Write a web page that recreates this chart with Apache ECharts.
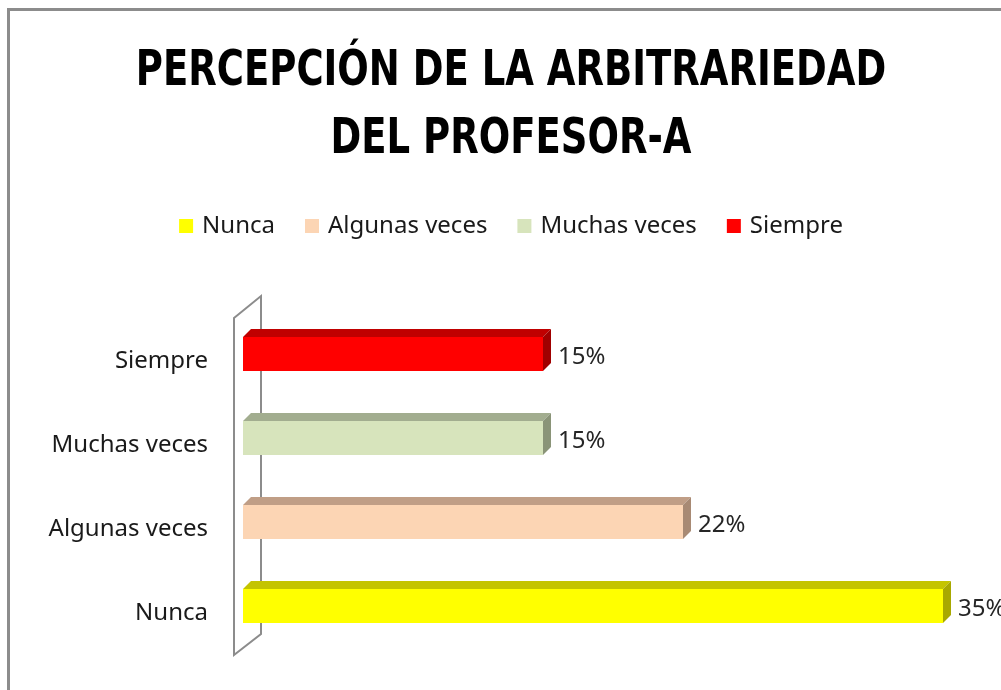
<!DOCTYPE html>
<html>
<head>
<meta charset="utf-8">
<script src="https://cdn.jsdelivr.net/npm/echarts@6/dist/echarts.min.js"></script>
<style>
    html, body { margin: 0; padding: 0; overflow: hidden; background: #fff; }
    #chart { width: 1022px; height: 700px; }
</style>
</head>
<body>
<div id="chart"></div>
<script>
// Data
const categories = ['Nunca', 'Algunas veces', 'Muchas veces', 'Siempre'];
const values = [35, 22, 15, 15];
const titleText = 'PERCEPCIÓN DE LA ARBITRARIEDAD\nDEL PROFESOR-A';

// Colors: front face, top face, side face
const frontColors = ['#FFFF00', '#FCD5B4', '#D7E4BC', '#FF0000'];
const topColors = ['#C4C400', '#C09E86', '#A2AD8F', '#C00000'];
const sideColors = ['#A8A800', '#A88A74', '#8A9478', '#A00000'];

const FONT = '"Noto Sans", sans-serif';
const DEPTH = 8;

const chart = echarts.init(document.getElementById('chart'));

// 3D box renderer for one bar
const renderBox = function (i) {
    return function (params, api) {
        const end = api.coord([api.value(0), api.value(1)]);
        const start = api.coord([0, api.value(1)]);
        const h = api.size([0, 1])[1] * 0.405;
        const x0 = start[0], x1 = end[0];
        const y0 = end[1] - h / 2, y1 = end[1] + h / 2;
        return {
            type: 'group',
            children: [
                {
                    type: 'polygon',
                    shape: { points: [[x0, y0], [x0 + DEPTH, y0 - DEPTH], [x1 + DEPTH, y0 - DEPTH], [x1, y0]] },
                    style: { fill: topColors[i] }
                },
                {
                    type: 'polygon',
                    shape: { points: [[x1, y0], [x1 + DEPTH, y0 - DEPTH], [x1 + DEPTH, y1 - DEPTH], [x1, y1]] },
                    style: { fill: sideColors[i] }
                },
                {
                    type: 'rect',
                    shape: { x: x0, y: y0, width: x1 - x0, height: h },
                    style: { fill: frontColors[i] }
                },
                {
                    type: 'text',
                    x: x1 + 15,
                    y: end[1] + 3,
                    style: {
                        text: Math.round(api.value(0)) + '%',
                        fill: '#262626',
                        font: '24px ' + FONT,
                        verticalAlign: 'middle',
                        align: 'left'
                    }
                }
            ]
        };
    };
};

// Side wall of the 3D chart
const renderWall = function (params) {
    const c = params.coordSys;
    const left = c.x - 9, back = c.x + 18;
    const top = c.y, bottom = c.y + c.height;
    return {
        type: 'polygon',
        shape: { points: [[left, top + 6], [back, top - 16], [back, bottom - 14], [left, bottom + 7]] },
        style: { fill: '#fff', stroke: '#8c8c8c', lineWidth: 2 }
    };
};

const series = [{
    type: 'custom',
    name: 'wall',
    silent: true,
    data: [[0, categories[0]]],
    encode: { x: 0, y: 1 },
    renderItem: renderWall
}];

categories.forEach(function (name, i) {
    series.push({
        type: 'custom',
        name: name,
        data: [[values[i], name]],
        encode: { x: 0, y: 1 },
        itemStyle: { color: frontColors[i] },
        renderItem: renderBox(i)
    });
});

chart.setOption({
    animation: false,
    legend: {
        data: categories,
        top: 209,
        left: 'center',
        icon: 'rect',
        itemWidth: 14,
        itemHeight: 14,
        itemGap: 30,
        textStyle: {
            fontFamily: FONT,
            fontSize: 24,
            color: '#1a1a1a',
            padding: [0, 0, 0, 4]
        }
    },
    graphic: [
        {
            // chart frame
            type: 'rect',
            silent: true,
            shape: { x: 8.5, y: 9.5, width: 1100, height: 800 },
            style: { fill: 'none', stroke: '#8c8c8c', lineWidth: 3 }
        },
        {
            // narrow bold title
            type: 'text',
            silent: true,
            x: 511,
            y: 38,
            scaleX: 0.84,
            style: {
                text: titleText,
                font: 'bold 49px "DejaVu Sans Condensed", sans-serif',
                lineHeight: 68,
                fill: '#000',
                align: 'center',
                verticalAlign: 'top'
            }
        }
    ],
    grid: {
        left: 243,
        top: 312,
        width: 800,
        height: 336,
        outerBoundsMode: 'none'
    },
    xAxis: {
        type: 'value',
        min: 0,
        max: 40,
        show: false
    },
    yAxis: {
        type: 'category',
        data: categories,
        axisLine: { show: false },
        axisTick: { show: false },
        axisLabel: {
            margin: 35,
            fontFamily: FONT,
            fontSize: 24,
            color: '#1a1a1a',
            verticalAlign: 'top',
            lineHeight: 14
        }
    },
    series: series
});
</script>
</body>
</html>
